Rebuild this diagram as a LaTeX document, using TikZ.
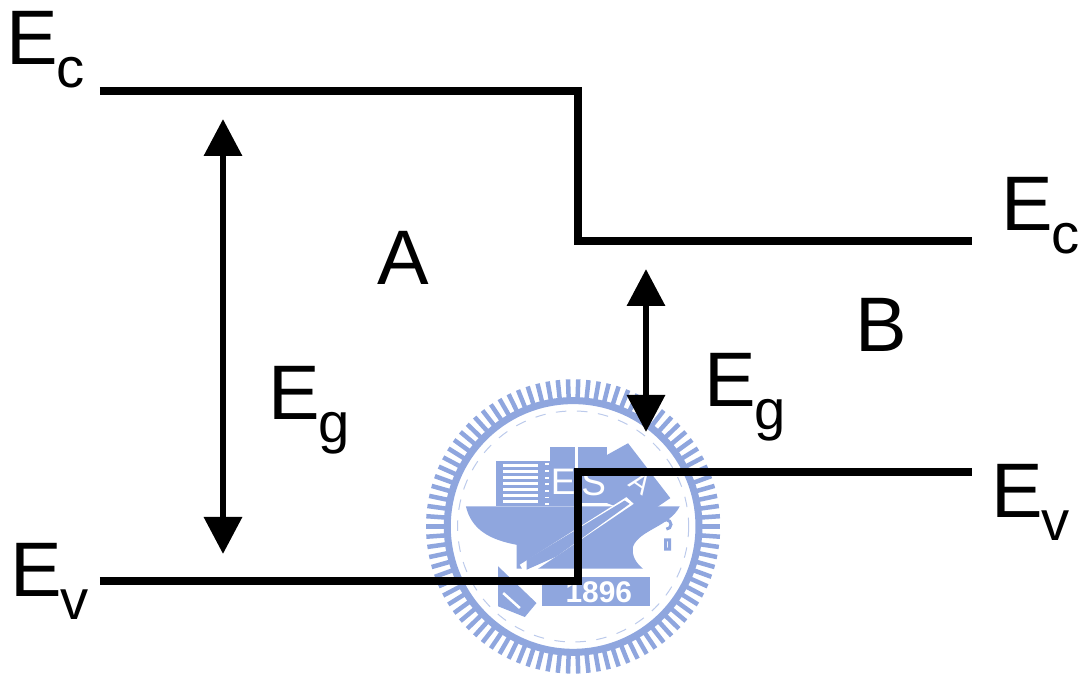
\documentclass[tikz,border=0pt]{standalone}
\usepackage{fontspec}
\setmainfont{Liberation Sans}
\usetikzlibrary{arrows.meta,calc}
\definecolor{logoblue}{RGB}{143,166,222}
\newcommand{\level}[1]{E\kern-0.6pt\raisebox{-6.5pt}{\fontsize{16}{16}\selectfont #1}}
\tikzset{
    band/.style={line width=0.88mm,miter limit=10},
    gap/.style={line width=0.65mm,{Triangle[length=3.7mm,width=3.7mm]}-{Triangle[length=3.7mm,width=3.7mm]}},
    tag/.style={inner sep=0pt,anchor=base west,font=\fontsize{22}{22}\selectfont},
    logo/.style={fill=logoblue,draw=none},
    hole/.style={fill=white,draw=none}
}
\begin{document}
\begin{tikzpicture}[x=0.1mm,y=-0.1mm]
    \useasboundingbox (0,0) rectangle (1083,684);

    %Sello de fondo
    \begin{scope}[shift={(410,370)},x=0.0333mm,y=-0.0333mm]
        \coordinate (seal) at (490,470);
        \foreach \a in {0,4,...,356}
        \draw[logoblue,line width=0.45mm] ($(seal)+(\a:385)$) -- ($(seal)+(\a:442)$);
        \draw[logoblue,line width=0.7mm] (seal) circle (378);
        \draw[logoblue!60,line width=0.1mm,dashed] (seal) circle (347);
        % edificios
        \fill[logo] (258,272) rectangle (420,410);
        \fill[logo] (420,230) rectangle (497,410);
        \fill[logo] (505,230) rectangle (592,400);
        \fill[logo] (592,255) -- (655,220) -- (782,385) -- (700,440) -- (592,400) -- cycle;
        \foreach \y in {282,300,318,336,354,372,390}
        \fill[hole] (280,\y) rectangle (385,\y+10);
        \foreach \y in {280,300,...,400}
        \fill[hole] (405,\y) rectangle (418,\y+6);
        % mapa
        \fill[logo] (168,410) -- (810,410) .. controls (780,470) and (690,480) .. (670,530)
            .. controls (665,560) and (680,580) .. (700,597) -- (320,597) -- (320,525)
            .. controls (240,510) and (185,480) .. (168,410) -- cycle;
        % letras
        \node[inner sep=0pt,text=white,font=\fontsize{10.5}{10.5}\selectfont] (letterE) at (460,335) {E};
        \node[inner sep=0pt,text=white,font=\fontsize{10.5}{10.5}\selectfont] (letterS) at (552,340) {S};
        \node[inner sep=0pt,text=white,font=\fontsize{8}{8}\selectfont,rotate=-35] (letterA) at (692,340) {A};
        % lapiz
        \fill[hole] (330,585) -- (650,382) -- (672,402) -- (350,620) -- cycle;
        \fill[logo] (350,570) -- (645,392) -- (660,402) -- (440,560) -- (350,600) -- cycle;
        \fill[logo] (265,590) -- (380,700) -- (345,742) -- (265,710) -- cycle;
        \draw[white,line width=0.25mm] (280,670) -- (330,715);
        % cinta
        \fill[logo] (395,622) rectangle (720,710);
        \node[inner sep=0pt,text=white,font=\bfseries\fontsize{8.5}{8.5}\selectfont] (year) at (567,668) {1896};
        \draw[logoblue,line width=0.3mm] (770,478) arc (90:-120:14) (768,510) rectangle (780,538);
    \end{scope}

    %Bandas
    \coordinate (cA) at (100,91);
    \coordinate (cStep) at (578,91);
    \coordinate (cJoin) at (578,241);
    \coordinate (cB) at (972,241);
    \coordinate (vA) at (100,581);
    \coordinate (vStep) at (578,581);
    \coordinate (vJoin) at (578,472);
    \coordinate (vB) at (972,472);
    \draw[band] (cA) -- (cStep) -- (cJoin) -- (cB);
    \draw[band] (vA) -- (vStep) -- (vJoin) -- (vB);

    %Flechas
    \coordinate (gapAtop) at (223,119);
    \coordinate (gapAbot) at (223,554);
    \coordinate (gapBtop) at (646,269);
    \coordinate (gapBbot) at (646,432);
    \draw[gap] (gapAtop) -- (gapAbot);
    \draw[gap] (gapBtop) -- (gapBbot);

    %Etiquetas
    \node[tag] (EcA) at (6,65) {\level{c}};
    \node[tag] (EvA) at (10,597) {\level{v}};
    \node[tag] (EcB) at (1001,231) {\level{c}};
    \node[tag] (EvB) at (991,518) {\level{v}};
    \node[tag] (EgA) at (268,420) {\level{g}};
    \node[tag] (EgB) at (704,407) {\level{g}};
    \node[tag] (nameA) at (377,285) {A};
    \node[tag] (nameB) at (855,352) {B};
\end{tikzpicture}
\end{document}
